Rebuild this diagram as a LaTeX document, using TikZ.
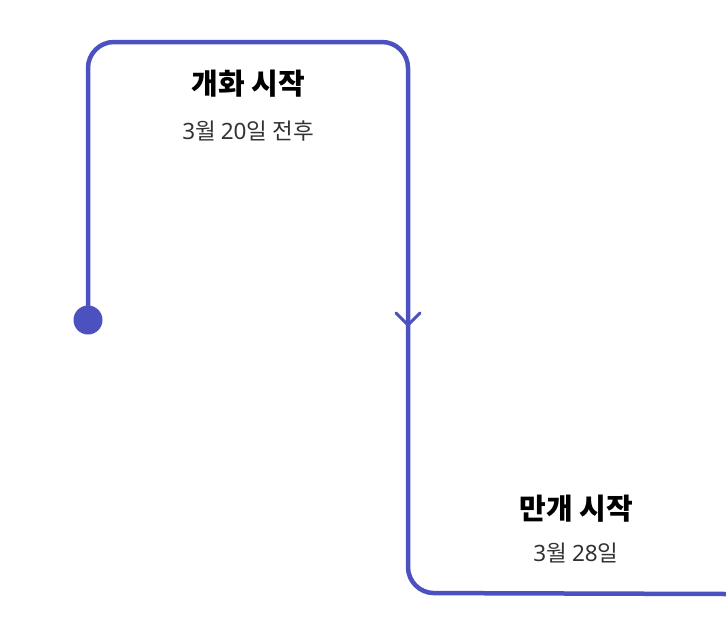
\documentclass[tikz,border=0pt]{standalone}
\usepackage{fontspec}
\newfontfamily\kr{Noto Sans CJK KR}
\newfontfamily\lat{Noto Sans}
\newcommand{\dg}[1]{{\lat #1}}
\definecolor{lineblue}{RGB}{75,82,192}
\definecolor{subgray}{RGB}{50,50,50}
\begin{document}
\begin{tikzpicture}[x=1pt,y=-1pt,
  flow/.style={draw=lineblue,line width=4.5pt,rounded corners=26pt},
  chev/.style={draw=lineblue,line width=3pt,line cap=round,line join=round},
  title/.style={font=\kr\bfseries\fontsize{29}{33}\selectfont,text=black,inner sep=0pt},
  sub/.style={font=\kr\fontsize{22.5}{26}\selectfont,text=subgray,inner sep=0pt},
  dot/.style={circle,fill=lineblue,minimum size=29pt,inner sep=0pt}]
\useasboundingbox (0,0) rectangle (726,641);
\node[dot] (start) at (88,320) {};
\coordinate (c1) at (88,42);
\coordinate (c2) at (408,42);
\coordinate (c3) at (408,593);
\coordinate (end) at (727,594);
\coordinate (arr) at (408,325);
\draw[flow] (start.center) -- (c1) -- (c2) -- (c3) -- (end);
\draw[chev] ([xshift=-12pt,yshift=12pt]arr) -- (arr) -- ([xshift=12pt,yshift=12pt]arr);
\node[title] (t1) at (248,84) {개화 시작};
\node[sub] (s1) at (248,131) {\dg{3}월 \dg{20}일 전후};
\node[title] (t2) at (576,509) {만개 시작};
\node[sub] (s2) at (576,553) {\dg{3}월 \dg{28}일};
\end{tikzpicture}
\end{document}
